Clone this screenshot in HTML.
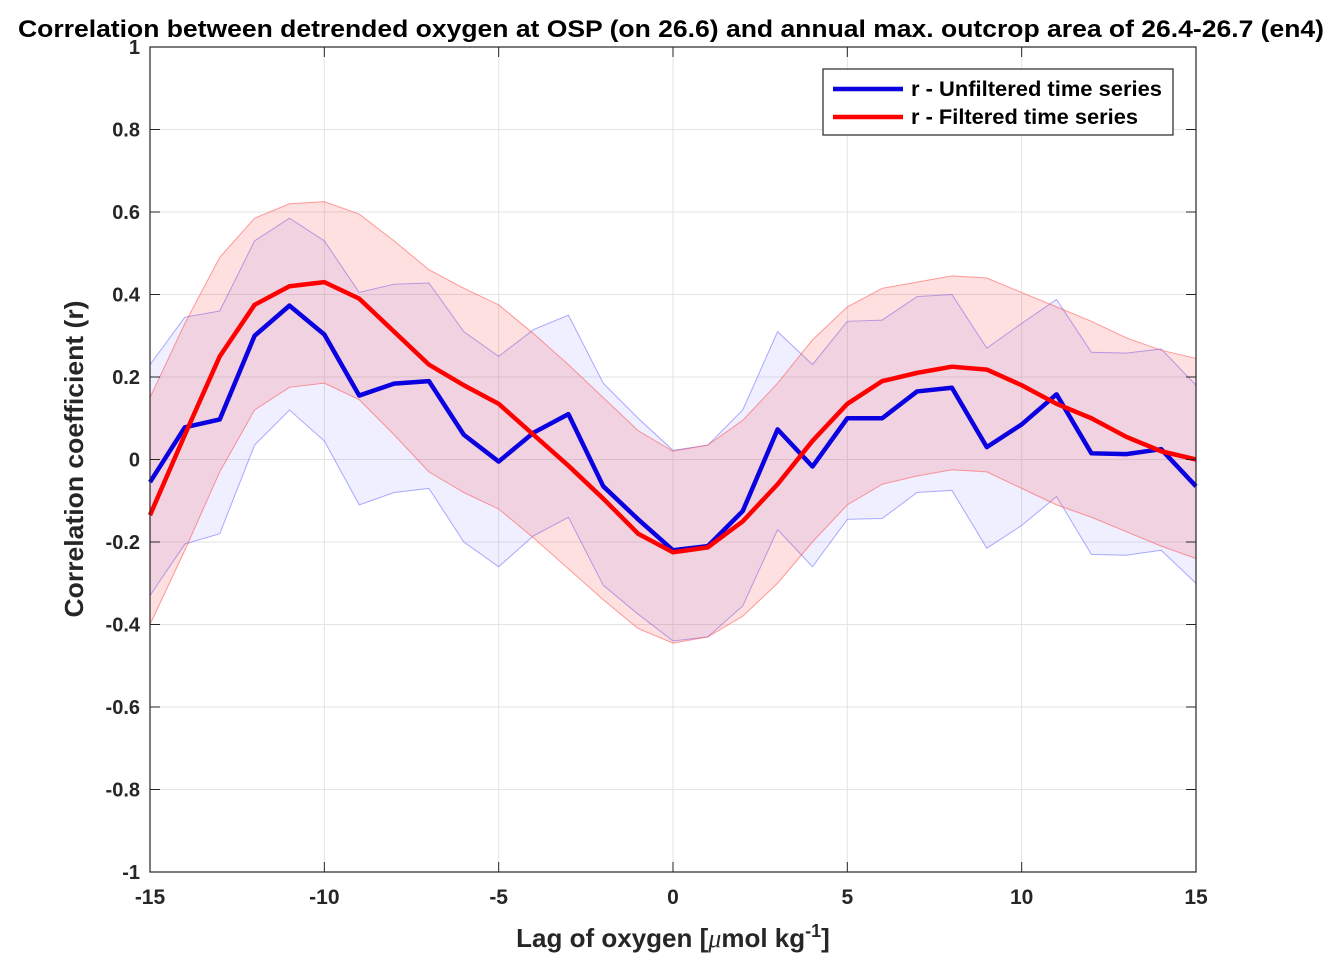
<!DOCTYPE html>
<html><head><meta charset="utf-8"><style>
body{margin:0;background:#fff;}
svg{display:block;font-family:"Liberation Sans",sans-serif;font-weight:bold;}
</style></head><body>
<svg id="chart" width="1343" height="971" xmlns="http://www.w3.org/2000/svg"></svg>
<script>
const lags=[-15,-14,-13,-12,-11,-10,-9,-8,-7,-6,-5,-4,-3,-2,-1,0,1,2,3,4,5,6,7,8,9,10,11,12,13,14,15];
const blueR=[-0.055,0.078,0.097,0.30,0.373,0.303,0.155,0.184,0.19,0.06,-0.005,0.065,0.11,-0.065,-0.145,-0.22,-0.21,-0.125,0.073,-0.017,0.10,0.10,0.165,0.174,0.03,0.085,0.158,0.015,0.013,0.025,-0.065];
const blueUp=[0.23,0.345,0.36,0.53,0.585,0.53,0.405,0.425,0.428,0.31,0.25,0.315,0.35,0.185,0.10,0.022,0.035,0.12,0.31,0.23,0.335,0.338,0.395,0.40,0.27,0.33,0.388,0.26,0.258,0.268,0.18];
const blueLo=[-0.33,-0.205,-0.18,0.035,0.12,0.045,-0.11,-0.08,-0.07,-0.2,-0.26,-0.185,-0.14,-0.305,-0.375,-0.44,-0.43,-0.355,-0.17,-0.26,-0.145,-0.143,-0.08,-0.075,-0.215,-0.16,-0.09,-0.23,-0.232,-0.22,-0.30];
const redR=[-0.135,0.06,0.25,0.375,0.42,0.43,0.39,0.31,0.23,0.18,0.135,0.06,-0.015,-0.095,-0.18,-0.225,-0.213,-0.15,-0.06,0.045,0.135,0.19,0.21,0.225,0.218,0.18,0.135,0.10,0.055,0.02,0.0];
const redUp=[0.15,0.33,0.49,0.585,0.62,0.625,0.595,0.53,0.46,0.415,0.375,0.305,0.23,0.15,0.07,0.02,0.035,0.095,0.185,0.29,0.37,0.415,0.43,0.445,0.44,0.405,0.37,0.335,0.295,0.265,0.245];
const redLo=[-0.40,-0.22,-0.03,0.12,0.175,0.185,0.145,0.06,-0.03,-0.08,-0.12,-0.19,-0.265,-0.34,-0.41,-0.445,-0.43,-0.38,-0.3,-0.2,-0.11,-0.06,-0.04,-0.025,-0.03,-0.07,-0.11,-0.14,-0.175,-0.21,-0.24];
const xTicks=[-15,-10,-5,0,5,10,15];
const yTicks=[-1,-0.8,-0.6,-0.4,-0.2,0,0.2,0.4,0.6,0.8,1];
const yTickLabels=["-1","-0.8","-0.6","-0.4","-0.2","0","0.2","0.4","0.6","0.8","1"];

const L=150,R=1196,T=47,B=872;
const X=v=>L+(v+15)/30*(R-L);
const Y=v=>B-(v+1)/2*(B-T);
const svg=document.getElementById('chart');
const NS='http://www.w3.org/2000/svg';
function mk(tag,attrs,parent){const e=document.createElementNS(NS,tag);for(const k in attrs)e.setAttribute(k,attrs[k]);(parent||svg).appendChild(e);return e;}

xTicks.forEach(t=>{const g=mk('line',{x1:X(t),x2:X(t),y1:T,y2:B,stroke:'#e3e3e3','stroke-width':1});

});
yTicks.forEach(t=>{const g=mk('line',{x1:L,x2:R,y1:Y(t),y2:Y(t),stroke:'#e3e3e3','stroke-width':1});

});

function band(up,lo,fill,stroke,name){
  let d='M'+lags.map((l,i)=>X(l)+','+Y(up[i])).join(' L');
  for(let i=lags.length-1;i>=0;i--)d+=' L'+X(lags[i])+','+Y(lo[i]);
  d+=' Z';
  const p=mk('path',{d:d,fill:fill,stroke:'none'});
  
  
  [up,lo].forEach(arr=>{const pl=mk('polyline',{points:lags.map((l,i)=>X(l)+','+Y(arr[i])).join(' '),fill:'none',stroke:stroke,'stroke-width':1});
  
  });
}
band(blueUp,blueLo,'rgba(110,110,255,0.11)','rgba(90,90,255,0.5)','blue-confidence-band');
band(redUp,redLo,'rgba(255,60,60,0.16)','rgba(255,80,80,0.55)','red-confidence-band');

function line(arr,col,name){const pl=mk('polyline',{points:lags.map((l,i)=>X(l)+','+Y(arr[i])).join(' '),fill:'none',stroke:col,'stroke-width':4.5,'stroke-linejoin':'round'});

}
line(blueR,'#0a00e0','unfiltered-line');
line(redR,'#ff0000','filtered-line');

const box=mk('rect',{x:L,y:T,width:R-L,height:B-T,fill:'none',stroke:'#262626','stroke-width':1.2});


xTicks.forEach(t=>{
  mk('line',{x1:X(t),x2:X(t),y1:B,y2:B-10,stroke:'#262626'});
  mk('line',{x1:X(t),x2:X(t),y1:T,y2:T+10,stroke:'#262626'});
  const tx=mk('text',{x:X(t),y:904,'text-anchor':'middle','font-size':21,fill:'#262626'});tx.textContent=t;
  
  
});
yTicks.forEach((t,i)=>{
  mk('line',{x1:L,x2:L+10,y1:Y(t),y2:Y(t),stroke:'#262626'});
  mk('line',{x1:R,x2:R-10,y1:Y(t),y2:Y(t),stroke:'#262626'});
  const tx=mk('text',{x:140,y:Y(t)+7,'text-anchor':'end','font-size':20,fill:'#262626'});tx.textContent=yTickLabels[i];
  
  
});
</script>
<svg style="position:absolute;left:0;top:0" width="1343" height="971" xmlns="http://www.w3.org/2000/svg">
<text x="18" y="37" font-size="24" textLength="1306" lengthAdjust="spacingAndGlyphs" fill="#000" font-family="Liberation Sans" font-weight="bold">Correlation between detrended oxygen at OSP (on 26.6) and annual max. outcrop area of 26.4-26.7 (en4)</text>
<text x="673" y="947" text-anchor="middle" font-size="26" fill="#262626" font-family="Liberation Sans" font-weight="bold">Lag of oxygen [<tspan font-style="italic" font-family="Liberation Serif" font-weight="normal">μ</tspan>mol kg<tspan dy="-10" font-size="18">-1</tspan><tspan dy="10">]</tspan></text>
<text transform="translate(83,459) rotate(-90)" text-anchor="middle" font-size="26" textLength="317" lengthAdjust="spacingAndGlyphs" fill="#262626" font-family="Liberation Sans" font-weight="bold">Correlation coefficient (r)</text>
<g>
<rect x="823" y="69" width="350" height="66" fill="#fff" stroke="#262626" stroke-width="1.2"/>
<line x1="833" x2="903" y1="89" y2="89" stroke="#0a00e0" stroke-width="4.5"/>
<text x="911" y="96" font-size="21" textLength="251" lengthAdjust="spacingAndGlyphs" fill="#000" font-family="Liberation Sans" font-weight="bold">r - Unfiltered time series</text>
<line x1="833" x2="903" y1="117" y2="117" stroke="#ff0000" stroke-width="4.5"/>
<text x="911" y="124" font-size="21" textLength="227" lengthAdjust="spacingAndGlyphs" fill="#000" font-family="Liberation Sans" font-weight="bold">r - Filtered time series</text>
</g>
</svg>
</body></html>
